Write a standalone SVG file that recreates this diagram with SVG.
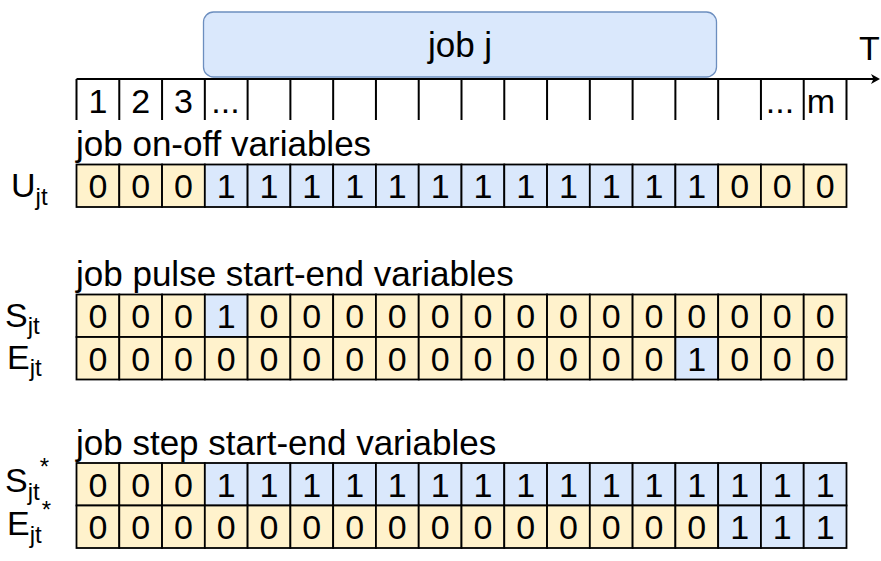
<svg xmlns="http://www.w3.org/2000/svg" width="881" height="561" viewBox="0 0 881 561">
<style>
text{font-family:"Liberation Sans",Arial,sans-serif;fill:#000}
.d{font-size:34px;text-anchor:middle}
.lbl{font-size:35px}
.rl{font-size:34px}
.sub{font-size:24px}
.o{fill:#fff2cc;stroke:#000;stroke-width:1.8}
.b{fill:#dae8fc;stroke:#000;stroke-width:1.8}
.tl{stroke:#000;stroke-width:2;fill:none}
</style>
<rect width="881" height="561" fill="#fff"/>
<g id="job-j">
<rect x="203.5" y="12" width="513" height="65" rx="10" fill="#dae8fc" stroke="#6c8ebf" stroke-width="1.3"/>
<text x="460" y="57" style="font-size:35px;text-anchor:middle">job j</text>
</g>
<g id="connectors">
<line class="tl" x1="76.5" y1="79" x2="874" y2="79"/>
<polygon points="880,79 871,74 873.5,79 871,84" fill="#000"/>
</g>
<g id="timeline">
<path class="tl" d="M76.5 79V120M119.28 79V120M162.06 79V120M204.83 79V120M247.61 79V120M290.39 79V120M333.17 79V120M375.94 79V120M418.72 79V120M461.5 79V120M504.28 79V120M547.06 79V120M589.83 79V120M632.61 79V120M675.39 79V120M718.17 79V120M760.94 79V120M803.72 79V120M846.5 79V120"/>
<text class="d" x="97.9" y="113">1</text>
<text class="d" x="140.7" y="113">2</text>
<text class="d" x="183.4" y="113">3</text>
<text class="d" x="225.5" y="113">...</text>
<text class="d" x="780" y="113">...</text>
<text class="d" x="821" y="113">m</text>
<text x="859" y="60" style="font-size:34px">T</text>
</g>
<g id="label-onoff"><text class="lbl" x="76" y="156">job on-off variables</text></g>
<g id="label-pulse"><text class="lbl" x="76" y="286">job pulse start-end variables</text></g>
<g id="label-step"><text class="lbl" x="76" y="455">job step start-end variables</text></g>
<g id="name-U"><text class="rl" x="11" y="197">U<tspan class="sub" dy="8">jt</tspan></text></g>
<g id="name-S"><text class="rl" x="5" y="327">S<tspan class="sub" dy="7">jt</tspan></text></g>
<g id="name-E"><text class="rl" x="7" y="369">E<tspan class="sub" dy="7">jt</tspan></text></g>
<g id="name-Sstar"><text class="rl" x="5" y="492">S<tspan class="sub" dy="8">jt</tspan><tspan class="sub" dy="-25">*</tspan></text></g>
<g id="name-Estar"><text class="rl" x="7" y="535">E<tspan class="sub" dy="8">jt</tspan><tspan class="sub" dy="-25">*</tspan></text></g>
<g id="row-U">
<rect class="o" x="76.5" y="164.5" width="42.78" height="42.5"/><text class="d" x="97.9" y="198">0</text>
<rect class="o" x="119.28" y="164.5" width="42.78" height="42.5"/><text class="d" x="140.7" y="198">0</text>
<rect class="o" x="162.06" y="164.5" width="42.78" height="42.5"/><text class="d" x="183.4" y="198">0</text>
<rect class="b" x="204.83" y="164.5" width="42.78" height="42.5"/><text class="d" x="226.2" y="198">1</text>
<rect class="b" x="247.61" y="164.5" width="42.78" height="42.5"/><text class="d" x="269" y="198">1</text>
<rect class="b" x="290.39" y="164.5" width="42.78" height="42.5"/><text class="d" x="311.8" y="198">1</text>
<rect class="b" x="333.17" y="164.5" width="42.78" height="42.5"/><text class="d" x="354.6" y="198">1</text>
<rect class="b" x="375.94" y="164.5" width="42.78" height="42.5"/><text class="d" x="397.3" y="198">1</text>
<rect class="b" x="418.72" y="164.5" width="42.78" height="42.5"/><text class="d" x="440.1" y="198">1</text>
<rect class="b" x="461.5" y="164.5" width="42.78" height="42.5"/><text class="d" x="482.9" y="198">1</text>
<rect class="b" x="504.28" y="164.5" width="42.78" height="42.5"/><text class="d" x="525.7" y="198">1</text>
<rect class="b" x="547.06" y="164.5" width="42.78" height="42.5"/><text class="d" x="568.4" y="198">1</text>
<rect class="b" x="589.83" y="164.5" width="42.78" height="42.5"/><text class="d" x="611.2" y="198">1</text>
<rect class="b" x="632.61" y="164.5" width="42.78" height="42.5"/><text class="d" x="654" y="198">1</text>
<rect class="b" x="675.39" y="164.5" width="42.78" height="42.5"/><text class="d" x="696.8" y="198">1</text>
<rect class="o" x="718.17" y="164.5" width="42.78" height="42.5"/><text class="d" x="739.6" y="198">0</text>
<rect class="o" x="760.94" y="164.5" width="42.78" height="42.5"/><text class="d" x="782.3" y="198">0</text>
<rect class="o" x="803.72" y="164.5" width="42.78" height="42.5"/><text class="d" x="825.1" y="198">0</text>
</g>
<g id="row-S">
<rect class="o" x="76.5" y="294.5" width="42.78" height="42.5"/><text class="d" x="97.9" y="328">0</text>
<rect class="o" x="119.28" y="294.5" width="42.78" height="42.5"/><text class="d" x="140.7" y="328">0</text>
<rect class="o" x="162.06" y="294.5" width="42.78" height="42.5"/><text class="d" x="183.4" y="328">0</text>
<rect class="b" x="204.83" y="294.5" width="42.78" height="42.5"/><text class="d" x="226.2" y="328">1</text>
<rect class="o" x="247.61" y="294.5" width="42.78" height="42.5"/><text class="d" x="269" y="328">0</text>
<rect class="o" x="290.39" y="294.5" width="42.78" height="42.5"/><text class="d" x="311.8" y="328">0</text>
<rect class="o" x="333.17" y="294.5" width="42.78" height="42.5"/><text class="d" x="354.6" y="328">0</text>
<rect class="o" x="375.94" y="294.5" width="42.78" height="42.5"/><text class="d" x="397.3" y="328">0</text>
<rect class="o" x="418.72" y="294.5" width="42.78" height="42.5"/><text class="d" x="440.1" y="328">0</text>
<rect class="o" x="461.5" y="294.5" width="42.78" height="42.5"/><text class="d" x="482.9" y="328">0</text>
<rect class="o" x="504.28" y="294.5" width="42.78" height="42.5"/><text class="d" x="525.7" y="328">0</text>
<rect class="o" x="547.06" y="294.5" width="42.78" height="42.5"/><text class="d" x="568.4" y="328">0</text>
<rect class="o" x="589.83" y="294.5" width="42.78" height="42.5"/><text class="d" x="611.2" y="328">0</text>
<rect class="o" x="632.61" y="294.5" width="42.78" height="42.5"/><text class="d" x="654" y="328">0</text>
<rect class="o" x="675.39" y="294.5" width="42.78" height="42.5"/><text class="d" x="696.8" y="328">0</text>
<rect class="o" x="718.17" y="294.5" width="42.78" height="42.5"/><text class="d" x="739.6" y="328">0</text>
<rect class="o" x="760.94" y="294.5" width="42.78" height="42.5"/><text class="d" x="782.3" y="328">0</text>
<rect class="o" x="803.72" y="294.5" width="42.78" height="42.5"/><text class="d" x="825.1" y="328">0</text>
</g>
<g id="row-E">
<rect class="o" x="76.5" y="337" width="42.78" height="42.5"/><text class="d" x="97.9" y="370.5">0</text>
<rect class="o" x="119.28" y="337" width="42.78" height="42.5"/><text class="d" x="140.7" y="370.5">0</text>
<rect class="o" x="162.06" y="337" width="42.78" height="42.5"/><text class="d" x="183.4" y="370.5">0</text>
<rect class="o" x="204.83" y="337" width="42.78" height="42.5"/><text class="d" x="226.2" y="370.5">0</text>
<rect class="o" x="247.61" y="337" width="42.78" height="42.5"/><text class="d" x="269" y="370.5">0</text>
<rect class="o" x="290.39" y="337" width="42.78" height="42.5"/><text class="d" x="311.8" y="370.5">0</text>
<rect class="o" x="333.17" y="337" width="42.78" height="42.5"/><text class="d" x="354.6" y="370.5">0</text>
<rect class="o" x="375.94" y="337" width="42.78" height="42.5"/><text class="d" x="397.3" y="370.5">0</text>
<rect class="o" x="418.72" y="337" width="42.78" height="42.5"/><text class="d" x="440.1" y="370.5">0</text>
<rect class="o" x="461.5" y="337" width="42.78" height="42.5"/><text class="d" x="482.9" y="370.5">0</text>
<rect class="o" x="504.28" y="337" width="42.78" height="42.5"/><text class="d" x="525.7" y="370.5">0</text>
<rect class="o" x="547.06" y="337" width="42.78" height="42.5"/><text class="d" x="568.4" y="370.5">0</text>
<rect class="o" x="589.83" y="337" width="42.78" height="42.5"/><text class="d" x="611.2" y="370.5">0</text>
<rect class="o" x="632.61" y="337" width="42.78" height="42.5"/><text class="d" x="654" y="370.5">0</text>
<rect class="b" x="675.39" y="337" width="42.78" height="42.5"/><text class="d" x="696.8" y="370.5">1</text>
<rect class="o" x="718.17" y="337" width="42.78" height="42.5"/><text class="d" x="739.6" y="370.5">0</text>
<rect class="o" x="760.94" y="337" width="42.78" height="42.5"/><text class="d" x="782.3" y="370.5">0</text>
<rect class="o" x="803.72" y="337" width="42.78" height="42.5"/><text class="d" x="825.1" y="370.5">0</text>
</g>
<g id="row-Sstar">
<rect class="o" x="76.5" y="463" width="42.78" height="42.5"/><text class="d" x="97.9" y="496.5">0</text>
<rect class="o" x="119.28" y="463" width="42.78" height="42.5"/><text class="d" x="140.7" y="496.5">0</text>
<rect class="o" x="162.06" y="463" width="42.78" height="42.5"/><text class="d" x="183.4" y="496.5">0</text>
<rect class="b" x="204.83" y="463" width="42.78" height="42.5"/><text class="d" x="226.2" y="496.5">1</text>
<rect class="b" x="247.61" y="463" width="42.78" height="42.5"/><text class="d" x="269" y="496.5">1</text>
<rect class="b" x="290.39" y="463" width="42.78" height="42.5"/><text class="d" x="311.8" y="496.5">1</text>
<rect class="b" x="333.17" y="463" width="42.78" height="42.5"/><text class="d" x="354.6" y="496.5">1</text>
<rect class="b" x="375.94" y="463" width="42.78" height="42.5"/><text class="d" x="397.3" y="496.5">1</text>
<rect class="b" x="418.72" y="463" width="42.78" height="42.5"/><text class="d" x="440.1" y="496.5">1</text>
<rect class="b" x="461.5" y="463" width="42.78" height="42.5"/><text class="d" x="482.9" y="496.5">1</text>
<rect class="b" x="504.28" y="463" width="42.78" height="42.5"/><text class="d" x="525.7" y="496.5">1</text>
<rect class="b" x="547.06" y="463" width="42.78" height="42.5"/><text class="d" x="568.4" y="496.5">1</text>
<rect class="b" x="589.83" y="463" width="42.78" height="42.5"/><text class="d" x="611.2" y="496.5">1</text>
<rect class="b" x="632.61" y="463" width="42.78" height="42.5"/><text class="d" x="654" y="496.5">1</text>
<rect class="b" x="675.39" y="463" width="42.78" height="42.5"/><text class="d" x="696.8" y="496.5">1</text>
<rect class="b" x="718.17" y="463" width="42.78" height="42.5"/><text class="d" x="739.6" y="496.5">1</text>
<rect class="b" x="760.94" y="463" width="42.78" height="42.5"/><text class="d" x="782.3" y="496.5">1</text>
<rect class="b" x="803.72" y="463" width="42.78" height="42.5"/><text class="d" x="825.1" y="496.5">1</text>
</g>
<g id="row-Estar">
<rect class="o" x="76.5" y="505.5" width="42.78" height="42.5"/><text class="d" x="97.9" y="539">0</text>
<rect class="o" x="119.28" y="505.5" width="42.78" height="42.5"/><text class="d" x="140.7" y="539">0</text>
<rect class="o" x="162.06" y="505.5" width="42.78" height="42.5"/><text class="d" x="183.4" y="539">0</text>
<rect class="o" x="204.83" y="505.5" width="42.78" height="42.5"/><text class="d" x="226.2" y="539">0</text>
<rect class="o" x="247.61" y="505.5" width="42.78" height="42.5"/><text class="d" x="269" y="539">0</text>
<rect class="o" x="290.39" y="505.5" width="42.78" height="42.5"/><text class="d" x="311.8" y="539">0</text>
<rect class="o" x="333.17" y="505.5" width="42.78" height="42.5"/><text class="d" x="354.6" y="539">0</text>
<rect class="o" x="375.94" y="505.5" width="42.78" height="42.5"/><text class="d" x="397.3" y="539">0</text>
<rect class="o" x="418.72" y="505.5" width="42.78" height="42.5"/><text class="d" x="440.1" y="539">0</text>
<rect class="o" x="461.5" y="505.5" width="42.78" height="42.5"/><text class="d" x="482.9" y="539">0</text>
<rect class="o" x="504.28" y="505.5" width="42.78" height="42.5"/><text class="d" x="525.7" y="539">0</text>
<rect class="o" x="547.06" y="505.5" width="42.78" height="42.5"/><text class="d" x="568.4" y="539">0</text>
<rect class="o" x="589.83" y="505.5" width="42.78" height="42.5"/><text class="d" x="611.2" y="539">0</text>
<rect class="o" x="632.61" y="505.5" width="42.78" height="42.5"/><text class="d" x="654" y="539">0</text>
<rect class="o" x="675.39" y="505.5" width="42.78" height="42.5"/><text class="d" x="696.8" y="539">0</text>
<rect class="b" x="718.17" y="505.5" width="42.78" height="42.5"/><text class="d" x="739.6" y="539">1</text>
<rect class="b" x="760.94" y="505.5" width="42.78" height="42.5"/><text class="d" x="782.3" y="539">1</text>
<rect class="b" x="803.72" y="505.5" width="42.78" height="42.5"/><text class="d" x="825.1" y="539">1</text>
</g>
</svg>
